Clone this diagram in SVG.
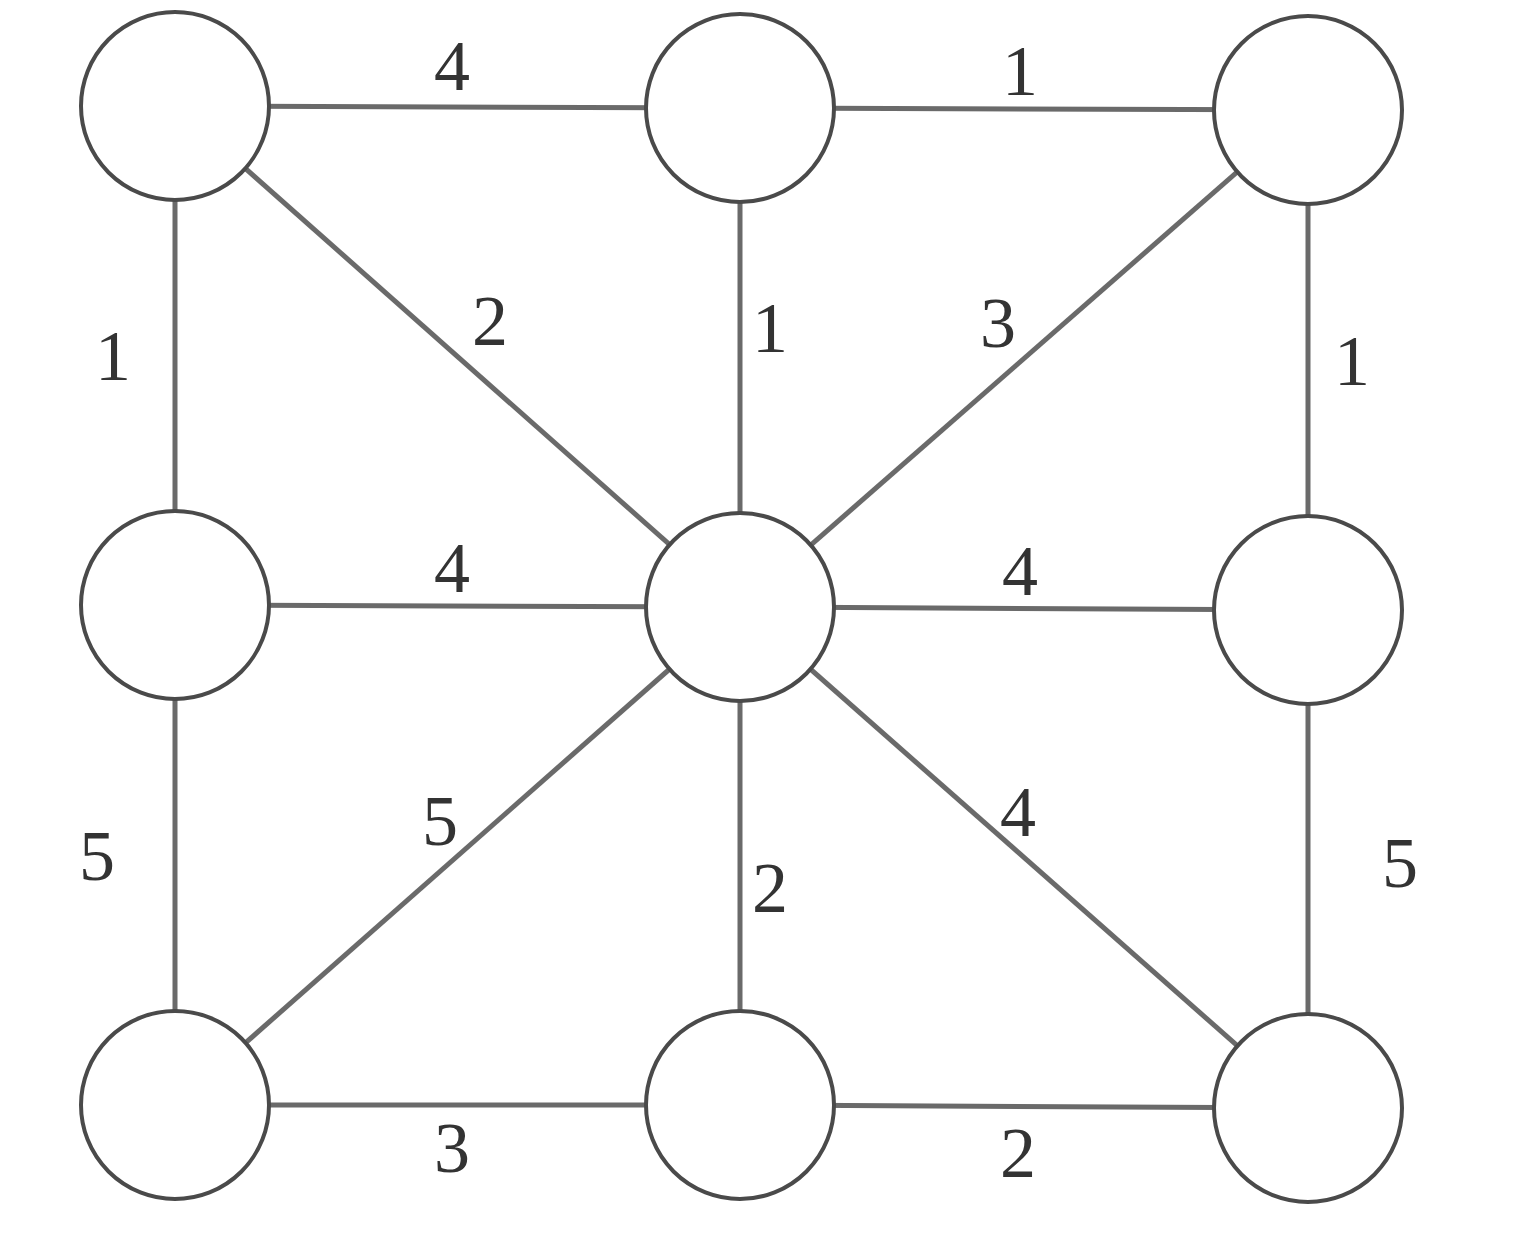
<svg xmlns="http://www.w3.org/2000/svg" width="1538" height="1244" viewBox="0 0 1538 1244">
<style>
.e{stroke:#6a6a6a;stroke-width:5;fill:none}
.n{fill:#fff;stroke:#4a4a4a;stroke-width:4}
.l{font-family:"Liberation Serif",serif;font-size:72px;fill:#333;text-anchor:middle}
</style>
<rect width="1538" height="1244" fill="#fff"/>
<g id="connectors">
<line class="e" x1="175" y1="106" x2="740" y2="108"/>
<line class="e" x1="740" y1="108" x2="1308" y2="110"/>
<line class="e" x1="175" y1="106" x2="175" y2="605"/>
<line class="e" x1="740" y1="108" x2="740" y2="607"/>
<line class="e" x1="1308" y1="110" x2="1308" y2="610"/>
<line class="e" x1="175" y1="106" x2="740" y2="607"/>
<line class="e" x1="1308" y1="110" x2="740" y2="607"/>
<line class="e" x1="175" y1="605" x2="740" y2="607"/>
<line class="e" x1="740" y1="607" x2="1308" y2="610"/>
<line class="e" x1="175" y1="605" x2="175" y2="1105"/>
<line class="e" x1="740" y1="607" x2="740" y2="1105"/>
<line class="e" x1="1308" y1="610" x2="1308" y2="1108"/>
<line class="e" x1="740" y1="607" x2="175" y2="1105"/>
<line class="e" x1="740" y1="607" x2="1308" y2="1108"/>
<line class="e" x1="175" y1="1105" x2="740" y2="1105"/>
<line class="e" x1="740" y1="1105" x2="1308" y2="1108"/>
</g>
<g id="n1"><circle class="n" cx="175" cy="106" r="94"/></g>
<g id="n2"><circle class="n" cx="740" cy="108" r="94"/></g>
<g id="n3"><circle class="n" cx="1308" cy="110" r="94"/></g>
<g id="n4"><circle class="n" cx="175" cy="605" r="94"/></g>
<g id="n5"><circle class="n" cx="740" cy="607" r="94"/></g>
<g id="n6"><circle class="n" cx="1308" cy="610" r="94"/></g>
<g id="n7"><circle class="n" cx="175" cy="1105" r="94"/></g>
<g id="n8"><circle class="n" cx="740" cy="1105" r="94"/></g>
<g id="n9"><circle class="n" cx="1308" cy="1108" r="94"/></g>
<g id="labels">
<text class="l" x="452" y="90">4</text>
<text class="l" x="1020" y="95">1</text>
<text class="l" x="490" y="345">2</text>
<text class="l" x="770" y="352">1</text>
<text class="l" x="998" y="347">3</text>
<text class="l" x="113" y="380">1</text>
<text class="l" x="1352" y="385">1</text>
<text class="l" x="452" y="592">4</text>
<text class="l" x="1020" y="595">4</text>
<text class="l" x="97" y="880">5</text>
<text class="l" x="440" y="845">5</text>
<text class="l" x="770" y="912">2</text>
<text class="l" x="1018" y="836">4</text>
<text class="l" x="1400" y="887">5</text>
<text class="l" x="452" y="1172">3</text>
<text class="l" x="1018" y="1177">2</text>
</g>
</svg>
